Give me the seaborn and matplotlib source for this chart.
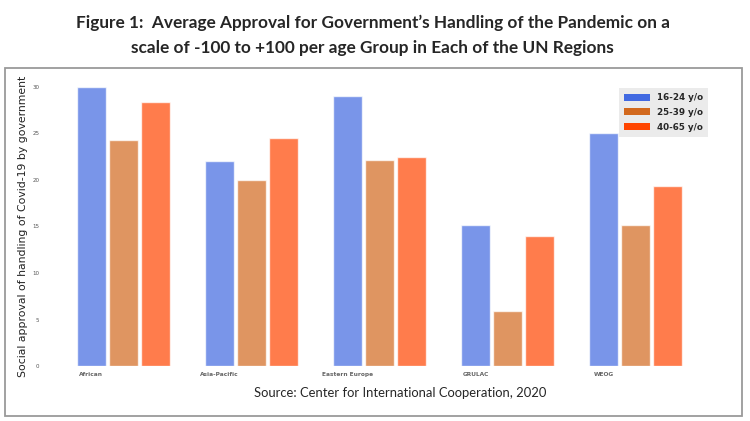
import pandas as pd
import seaborn as sns
import matplotlib.pyplot as plt
from matplotlib.patches import Patch, Rectangle

### Data
regions = ["African", "Asia-Pacific", "Eastern Europe", "GRULAC", "WEOG"]
age_groups = ["16-24 y/o", "25-39 y/o", "40-65 y/o"]
young = [30.0, 22.0, 29.0, 15.2, 25.0]
middle = [24.3, 20.0, 22.1, 5.9, 15.2]
older = [28.4, 24.5, 22.5, 14.0, 19.3]
colors = ["royalblue", "chocolate", "orangered"]

data = pd.DataFrame({
    "region": regions * 3,
    "age": [a for a in age_groups for _ in regions],
    "approval": young + middle + older,
})

sns.set_style("white")
plt.rcParams["font.family"] = ["DejaVu Sans"]

fig = plt.figure(figsize=(7.5, 4.21), dpi=100)
ax = fig.add_axes([0.06, 0.1306, 0.892, 0.696])

sns.barplot(data=data, x="region", y="approval", hue="age", hue_order=age_groups,
            palette=colors, saturation=1, alpha=0.7, gap=0.1, width=0.75,
            errorbar=None, ax=ax, legend=False)

for s in ax.spines.values():
    s.set_visible(False)

######### axes ##########
ax.set_xlim(-0.6125, 4.6125)
ax.set_ylim(0, 31.5)
ax.set_xticks([i - 0.25 for i in range(len(regions))])
ax.set_xticklabels(regions, fontsize=4.2, color="#666666", fontweight="bold")
ax.set_yticks([0, 5, 10, 15, 20, 25, 30])
ax.set_yticklabels(["0", "5", "10", "15", "20", "25", "30"], fontsize=4, color="#555555")
ax.tick_params(axis="y", length=2, width=0.5, color="#aaaaaa", pad=2)
ax.tick_params(axis="x", length=0, pad=4)
ax.set_xlabel("")
ax.set_ylabel("Social approval of handling of Covid-19 by government", fontsize=7.8, color="#222222")
ax.yaxis.set_label_coords(-0.026, 0.475)

handles = [Patch(facecolor=c, edgecolor="none") for c in colors]
leg = ax.legend(handles, age_groups, loc="upper right", bbox_to_anchor=(0.991, 0.949),
                borderaxespad=0, prop={"size": 6.3, "weight": "bold"}, facecolor="#ebebeb",
                edgecolor="none", framealpha=1, fancybox=False, handlelength=2.9,
                handleheight=0.9, labelspacing=0.65, borderpad=0.6, handletextpad=0.8)

############ frame and texts ###########
fig.patches.append(Rectangle((0.0065, 0.0119), 0.983, 0.8266, transform=fig.transFigure,
                             fill=False, edgecolor="#9a9a9a", linewidth=1.3, zorder=5))

fig.text(0.497, 0.945, "Figure 1:  Average Approval for Government\u2019s Handling of the Pandemic on a",
         ha="center", va="center", fontsize=12.4, fontweight="bold", family="Lato")
fig.text(0.497, 0.886, "scale of -100 to +100 per age Group in Each of the UN Regions",
         ha="center", va="center", fontsize=12.4, fontweight="bold", family="Lato")
fig.text(0.533, 0.067, "Source: Center for International Cooperation, 2020",
         ha="center", va="center", fontsize=9.4, family="Lato")

plt.savefig("out.png", dpi=100)
